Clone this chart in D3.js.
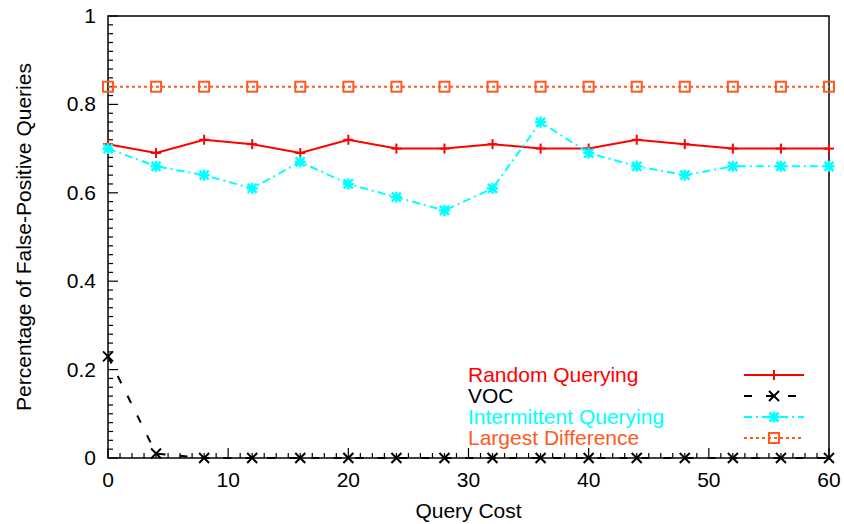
<!DOCTYPE html>
<html>
<head>
<meta charset="utf-8">
<script src="https://cdn.jsdelivr.net/npm/d3@7"></script>
<style>
  body { margin: 0; background: #fff; }
  svg text { font-family: "Liberation Sans", Arial, Helvetica, sans-serif; }
</style>
</head>
<body>
<svg id="chart" width="844" height="524"></svg>
<script>
// Query cost values on the x axis
const queryCost = [0, 4, 8, 12, 16, 20, 24, 28, 32, 36, 40, 44, 48, 52, 56, 60];

// Percentage of false-positive queries per strategy
const randomQuerying = [0.71, 0.69, 0.72, 0.71, 0.69, 0.72, 0.70, 0.70, 0.71, 0.70, 0.70, 0.72, 0.71, 0.70, 0.70, 0.70];
const voc = [0.23, 0.01, 0, 0, 0, 0, 0, 0, 0, 0, 0, 0, 0, 0, 0, 0];
const intermittentQuerying = [0.70, 0.66, 0.64, 0.61, 0.67, 0.62, 0.59, 0.56, 0.61, 0.76, 0.69, 0.66, 0.64, 0.66, 0.66, 0.66];
const largestDifference = [0.84, 0.84, 0.84, 0.84, 0.84, 0.84, 0.84, 0.84, 0.84, 0.84, 0.84, 0.84, 0.84, 0.84, 0.84, 0.84];

const seriesNames = ["Random Querying", "VOC", "Intermittent Querying", "Largest Difference"];
const xTicks = [0, 10, 20, 30, 40, 50, 60];
const yTicks = [0, 0.2, 0.4, 0.6, 0.8, 1];

const series = [
  { name: seriesNames[0], values: randomQuerying, color: "#ff0000", dash: null, marker: "plus" },
  { name: seriesNames[1], values: voc, color: "#000000", dash: "8,14", marker: "cross" },
  { name: seriesNames[2], values: intermittentQuerying, color: "#00ffff", dash: "8,4,2,4", marker: "star" },
  { name: seriesNames[3], values: largestDifference, color: "#ff5a1e", dash: "3,3", marker: "square" }
];

const svg = d3.select("#chart");
const plotLeft = 108, plotRight = 829, plotTop = 16, plotBottom = 458;
const fontSize = 21;

const x = d3.scaleLinear().domain([0, 60]).range([plotLeft, plotRight]);
const y = d3.scaleLinear().domain([0, 1]).range([plotBottom, plotTop]);

// Frame
svg.append("rect")
  .attr("x", plotLeft).attr("y", plotTop)
  .attr("width", plotRight - plotLeft).attr("height", plotBottom - plotTop)
  .attr("fill", "none").attr("stroke", "#000").attr("stroke-width", 1.5);

// Minor and major ticks (inward) on left and bottom
const g = svg.append("g").attr("stroke", "#000").attr("stroke-width", 1.2);
d3.range(0, 61, 1).forEach(v => {
  const major = v % 10 === 0;
  g.append("line").attr("x1", x(v)).attr("x2", x(v))
    .attr("y1", plotBottom).attr("y2", plotBottom - (major ? 10 : 5));
});
d3.range(0, 51, 1).forEach(i => {
  const v = i / 50;
  const major = i % 10 === 0;
  g.append("line").attr("y1", y(v)).attr("y2", y(v))
    .attr("x1", plotLeft).attr("x2", plotLeft + (major ? 10 : 5));
});

// Tick labels
svg.append("g").selectAll("text").data(xTicks).join("text")
  .attr("x", d => x(d)).attr("y", 487)
  .attr("text-anchor", "middle").attr("font-size", fontSize).text(d => d);
svg.append("g").selectAll("text").data(yTicks).join("text")
  .attr("x", 96).attr("y", d => y(d) + 7)
  .attr("text-anchor", "end").attr("font-size", fontSize).text(d => d);

// Axis titles
svg.append("text").attr("x", (plotLeft + plotRight) / 2).attr("y", 518)
  .attr("text-anchor", "middle").attr("font-size", fontSize).text("Query Cost");
svg.append("text")
  .attr("transform", `translate(31,${(plotTop + plotBottom) / 2}) rotate(-90)`)
  .attr("text-anchor", "middle").attr("font-size", fontSize).text("Percentage of False-Positive Queries");

// Point markers
function drawMarker(sel, type, color, cx, cy) {
  const m = sel.append("g").attr("stroke", color).attr("stroke-width", 2).attr("fill", "none");
  if (type === "plus") {
    const s = 5;
    m.append("line").attr("x1", cx - s).attr("x2", cx + s).attr("y1", cy).attr("y2", cy);
    m.append("line").attr("x1", cx).attr("x2", cx).attr("y1", cy - s).attr("y2", cy + s);
  } else if (type === "cross") {
    const c = 5;
    m.append("line").attr("x1", cx - c).attr("x2", cx + c).attr("y1", cy - c).attr("y2", cy + c);
    m.append("line").attr("x1", cx - c).attr("x2", cx + c).attr("y1", cy + c).attr("y2", cy - c);
  } else if (type === "star") {
    const s = 5.5, c = 4.5;
    m.append("line").attr("x1", cx - s).attr("x2", cx + s).attr("y1", cy).attr("y2", cy);
    m.append("line").attr("x1", cx).attr("x2", cx).attr("y1", cy - s).attr("y2", cy + s);
    m.append("line").attr("x1", cx - c).attr("x2", cx + c).attr("y1", cy - c).attr("y2", cy + c);
    m.append("line").attr("x1", cx - c).attr("x2", cx + c).attr("y1", cy + c).attr("y2", cy - c);
    m.attr("stroke-width", 2.5);
  } else if (type === "square") {
    m.append("rect").attr("x", cx - 5).attr("y", cy - 5).attr("width", 10).attr("height", 10);
  }
}

const line = d3.line().x(d => x(d[0])).y(d => y(d[1]));

series.forEach(s => {
  const pts = queryCost.map((q, i) => [q, s.values[i]]);
  svg.append("path").datum(pts)
    .attr("d", line).attr("fill", "none")
    .attr("stroke", s.color).attr("stroke-width", 2)
    .attr("stroke-dasharray", s.dash);
  const mg = svg.append("g");
  pts.forEach(p => drawMarker(mg, s.marker, s.color, x(p[0]), y(p[1])));
});

// Legend
const legendY = [375, 396, 417, 438];
series.forEach((s, i) => {
  svg.append("text").attr("x", 468).attr("y", legendY[i] + 7)
    .attr("font-size", fontSize).attr("fill", s.color).text(s.name);
  svg.append("line").attr("x1", 744).attr("x2", 804)
    .attr("y1", legendY[i]).attr("y2", legendY[i])
    .attr("stroke", s.color).attr("stroke-width", 2)
    .attr("stroke-dasharray", s.dash);
  drawMarker(svg, s.marker, s.color, 774, legendY[i]);
});
</script>
</body>
</html>
